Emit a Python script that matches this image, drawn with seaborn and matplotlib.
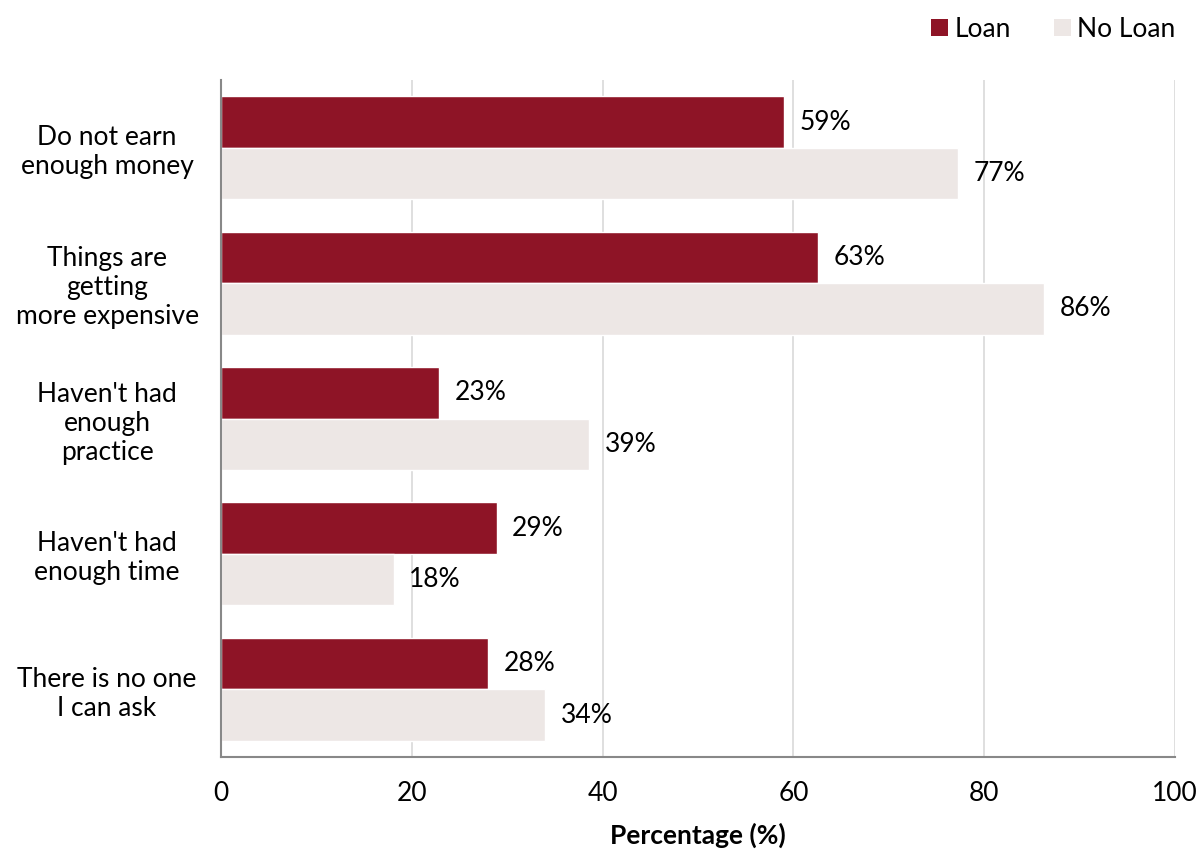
import matplotlib
matplotlib.use("Agg")
import matplotlib.pyplot as plt
import seaborn as sns
import pandas as pd
from matplotlib.patches import Patch

categories = ["Do not earn\nenough money", "Things are\ngetting\nmore expensive",
              "Haven't had\nenough\npractice", "Haven't had\nenough time",
              "There is no one\nI can ask"]
loan = [59.0, 62.6, 22.9, 28.9, 28.0]
no_loan = [77.3, 86.3, 38.6, 18.1, 34.0]
series = ["Loan", "No Loan"]
colors = ["#8E1426", "#EDE7E5"]
xticks = [0, 20, 40, 60, 80, 100]

sns.set_theme(style="white")
plt.rcParams['font.family'] = ['Lato', 'DejaVu Sans']
plt.rcParams['text.color'] = 'black'
plt.rcParams['xtick.color'] = 'black'
plt.rcParams['ytick.color'] = 'black'
plt.rcParams['axes.labelcolor'] = 'black'

df = pd.DataFrame({
    "category": categories * 2,
    "value": loan + no_loan,
    "series": [series[0]] * len(categories) + [series[1]] * len(categories),
})

fig = plt.figure(figsize=(12.03, 8.52), dpi=100)
ax = fig.add_axes([0.1837, 0.1115, 0.793, 0.7945])
sns.barplot(data=df, y="category", x="value", hue="series", order=categories,
            hue_order=series, palette=colors, orient="h", width=0.76,
            ax=ax, legend=False, saturation=1)

ax.set_xlim(0, 100)
ax.set_ylim(len(categories) - 0.5, -0.5)
ax.set_xticks(xticks)
ax.set_xticklabels([str(t) for t in xticks], fontsize=19)
ax.xaxis.grid(True, color="#D9D9D9", linewidth=1.2)
ax.set_axisbelow(True)
ax.set_yticks([i for i in range(len(categories))])
ax.set_yticklabels(categories, fontsize=19, ha="center", multialignment="center",
                   linespacing=1.2)
ax.tick_params(axis="y", length=0, pad=82)
ax.set_yticks([i - 0.5 for i in range(len(categories) + 1)], minor=True)
ax.tick_params(axis="y", which="minor", length=7, color="#888888", width=1.5, direction="out")
ax.tick_params(axis="x", length=7, color="#888888", labelcolor="black", width=1.5,
               direction="out", pad=10)
for s in ["top", "right"]:
    ax.spines[s].set_visible(False)
for s in ["left", "bottom"]:
    ax.spines[s].set_color("#888888")
    ax.spines[s].set_linewidth(1.5)
ax.set_ylabel("")
ax.set_xlabel("Percentage (%)", fontsize=19, fontweight="bold", labelpad=12)

for cont, vals in zip(ax.containers, [loan, no_loan]):
    ax.bar_label(cont, labels=[f"{round(v)}%" for v in vals], padding=11, fontsize=19)

handles = [Patch(facecolor=c, edgecolor="none") for c in colors]
fig.legend(handles, series, loc="upper right", bbox_to_anchor=(0.997, 1.008), ncol=2,
           frameon=False, fontsize=19, handlelength=0.65, handleheight=0.65,
           handletextpad=0.25, columnspacing=1.6)

fig.savefig("out.png", dpi=100)
